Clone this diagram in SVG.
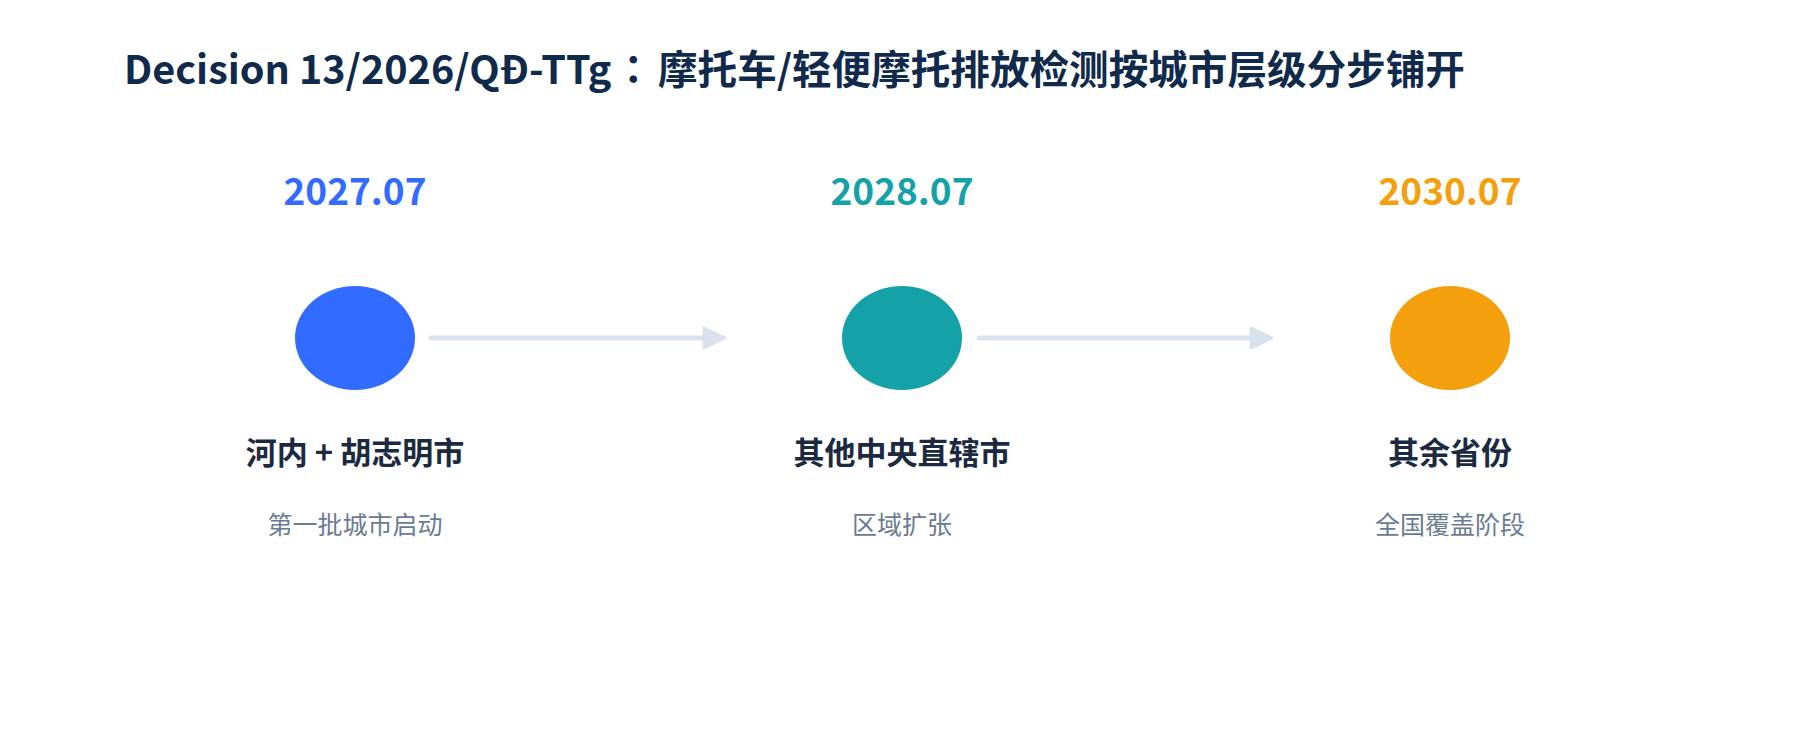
<svg xmlns="http://www.w3.org/2000/svg" width="1804" height="754" viewBox="0 0 1804 754">
<style>
text { font-family: "Noto Sans CJK SC", "Noto Sans", sans-serif; }
.title { font-size: 39.6px; font-weight: 700; fill: #0f2a4b; }
.colon { font-family: "Noto Sans CJK TC", "Noto Sans CJK SC", sans-serif; }
.date { font-size: 37px; font-weight: 700; text-anchor: middle; }
.label { font-size: 31px; font-weight: 700; fill: #1b2a41; text-anchor: middle; }
.sub { font-size: 25px; font-weight: 400; fill: #6b7b93; text-anchor: middle; }
.conn { stroke: #d9e1ec; stroke-width: 5; stroke-linecap: round; fill: none; }
</style>
<defs>
<marker id="arrow" markerUnits="userSpaceOnUse" markerWidth="30" markerHeight="30" viewBox="-3 -14 30 28" refX="0" refY="0" orient="auto" overflow="visible">
<path d="M0,-10 L21,0 L0,10 Z" fill="#d9e1ec" stroke="#d9e1ec" stroke-width="3" stroke-linejoin="round"/>
</marker>
</defs>
<rect width="1804" height="754" fill="#ffffff"/>
<text class="title" x="124" y="84">Decision 13/2026/QĐ-TTg<tspan class="colon" dx="2">：</tspan><tspan dx="5">摩托车/轻便摩托排放检测按城市层级分步铺开</tspan></text>
<g id="connectors">
<line class="conn" x1="431" y1="338" x2="704" y2="338" marker-end="url(#arrow)"/>
<line class="conn" x1="979" y1="338" x2="1251" y2="338" marker-end="url(#arrow)"/>
</g>
<g id="node-1">
<text class="date" x="355" y="205" fill="#326bff">2027.07</text>
<ellipse cx="355" cy="338" rx="60" ry="52" fill="#326bff"/>
<text class="label" x="355" y="464">河内 + 胡志明市</text>
<text class="sub" x="355" y="534">第一批城市启动</text>
</g>
<g id="node-2">
<text class="date" x="902" y="205" fill="#14a2a8">2028.07</text>
<ellipse cx="902" cy="338" rx="60" ry="52" fill="#14a2a8"/>
<text class="label" x="902" y="464">其他中央直辖市</text>
<text class="sub" x="902" y="534">区域扩张</text>
</g>
<g id="node-3">
<text class="date" x="1450" y="205" fill="#f49f0c">2030.07</text>
<ellipse cx="1450" cy="338" rx="60" ry="52" fill="#f49f0c"/>
<text class="label" x="1450" y="464">其余省份</text>
<text class="sub" x="1450" y="534">全国覆盖阶段</text>
</g>
</svg>
